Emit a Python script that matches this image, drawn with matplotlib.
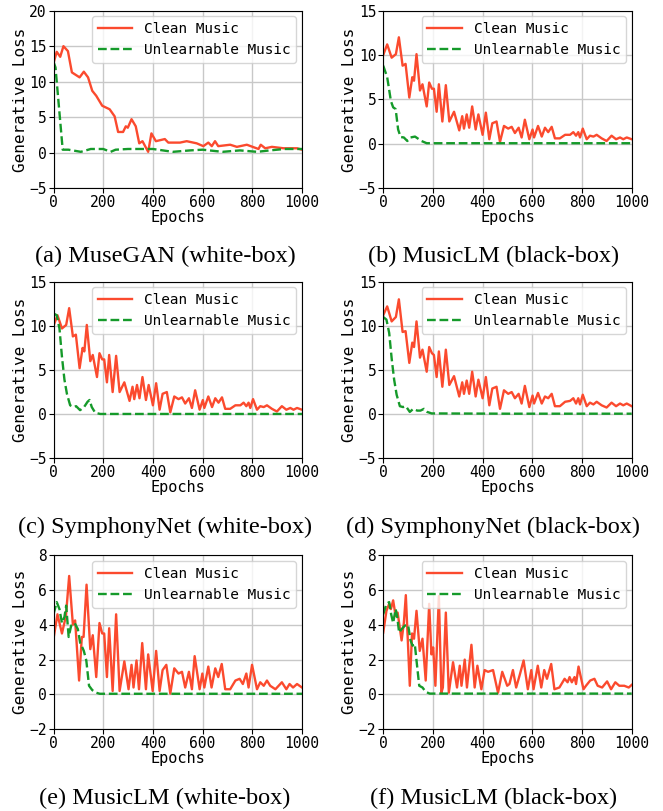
import matplotlib
matplotlib.use("Agg")
from matplotlib import pyplot as plt

# ---- data ----
a_clean_x = [0, 13, 27, 40, 58, 74, 105, 122, 139, 156, 172, 196, 226, 246, 260, 280, 291, 299, 314, 331,
             345, 358, 381, 394, 412, 448, 462, 509, 536, 576, 603, 623, 637, 650, 663, 711, 738, 778, 825,
             834, 852, 879, 926, 980, 1000]
a_clean_y = [12.6, 14.2, 13.5, 15.0, 14.3, 11.3, 10.6, 11.4, 10.6, 8.7, 8.0, 6.6, 6.1, 5.1, 2.9, 2.9, 3.7, 3.5,
             4.7, 3.7, 1.3, 1.6, 0.1, 2.7, 1.6, 1.9, 1.4, 1.4, 1.6, 1.3, 0.9, 1.4, 0.9, 1.6, 0.9, 1.1, 0.8,
             1.1, 0.5, 1.1, 0.6, 0.8, 0.6, 0.6, 0.4]
a_unl_x = [0, 8, 37, 60, 110, 150, 200, 230, 250, 300, 400, 480, 550, 600, 680, 750, 820, 870, 930, 1000]
a_unl_y = [12.8, 12.0, 0.4, 0.4, 0.1, 0.5, 0.5, 0.1, 0.4, 0.5, 0.5, 0.1, 0.3, 0.4, 0.1, 0.3, 0.1, 0.3, 0.5, 0.5]

b_clean_x = [0, 16, 34, 51, 63, 78, 90, 105, 117, 124, 134, 148, 158, 175, 185, 196, 204, 215, 224, 238,
             252, 266, 285, 306, 318, 325, 336, 346, 358, 372, 383, 400, 413, 427, 439, 456, 470, 486, 503,
             517, 530, 545, 557, 570, 588, 601, 607, 623, 638, 651, 664, 678, 691, 711, 732, 752, 765, 776,
             785, 792, 803, 819, 832, 846, 859, 879, 899, 919, 937, 953, 966, 980, 1000]
b_clean_y = [10.0, 11.2, 9.7, 10.1, 12.0, 8.8, 9.0, 5.2, 7.5, 7.1, 10.1, 6.0, 6.7, 4.2, 6.9, 6.2, 6.2, 3.6,
             6.7, 2.5, 6.6, 2.5, 3.6, 1.5, 3.1, 1.7, 3.3, 1.8, 4.2, 1.6, 3.3, 1.0, 3.5, 0.5, 2.3, 2.5, 0.2,
             2.0, 1.7, 1.9, 1.2, 1.8, 0.7, 2.7, 0.5, 1.6, 0.7, 2.0, 0.8, 1.8, 1.3, 1.9, 0.6, 0.6, 1.0, 1.0,
             1.3, 0.9, 1.3, 0.7, 1.7, 0.5, 0.9, 0.8, 1.0, 0.6, 0.3, 0.9, 0.5, 0.7, 0.5, 0.7, 0.5]
b_unl_x = [0, 16, 31, 40, 50, 60, 70, 83, 97, 110, 128, 154, 175, 250, 500, 750, 1000]
b_unl_y = [8.8, 7.5, 4.8, 4.1, 3.9, 1.6, 0.75, 0.7, 0.3, 0.7, 0.8, 0.3, 0.05, 0.05, 0.05, 0.05, 0.05]

# SymphonyNet white-box reuses the same clean curve
c_clean_x = b_clean_x
c_clean_y = b_clean_y
c_unl_x = [0, 13, 24, 34, 44, 54, 67, 80, 91, 107, 123, 137, 145, 154, 168, 188, 500, 1000]
c_unl_y = [11.4, 11.2, 9.7, 6.5, 3.9, 2.3, 1.0, 0.8, 0.9, 0.45, 0.8, 1.4, 1.6, 0.8, 0.15, 0.02, 0.02, 0.02]

d_clean_x = b_clean_x
d_clean_y = [11.2, 12.2, 10.5, 11.0, 13.0, 9.3, 9.4, 5.8, 8.1, 7.6, 10.5, 6.4, 7.3, 4.8, 7.6, 6.9, 6.7, 4.2,
             7.1, 3.1, 7.3, 3.3, 4.3, 2.0, 3.6, 2.3, 3.8, 2.3, 4.8, 2.0, 3.9, 1.8, 4.2, 1.0, 2.9, 3.1, 0.6,
             2.7, 2.3, 2.5, 1.8, 2.3, 1.2, 3.2, 0.8, 2.1, 1.2, 2.4, 1.2, 2.0, 1.8, 2.3, 0.9, 0.9, 1.4, 1.5,
             1.8, 1.2, 1.8, 1.1, 2.2, 0.9, 1.3, 1.1, 1.4, 1.0, 0.75, 1.3, 0.9, 1.2, 1.0, 1.2, 0.9]
d_unl_x = [0, 13, 24, 34, 44, 54, 67, 80, 91, 107, 121, 137, 150, 164, 177, 195, 500, 1000]
d_unl_y = [11.0, 10.7, 9.2, 6.3, 3.9, 2.2, 0.9, 0.8, 0.9, 0.25, 0.6, 0.4, 0.4, 0.6, 0.25, 0.08, 0.05, 0.05]

e_clean_x = [0, 16, 34, 50, 63, 78, 87, 103, 114, 121, 133, 148, 158, 172, 185, 196, 204, 215, 224, 238,
             252, 266, 285, 302, 314, 322, 334, 344, 357, 372, 381, 399, 413, 427, 439, 454, 470, 486, 503,
             517, 530, 545, 557, 568, 588, 599, 607, 623, 636, 651, 663, 677, 691, 711, 732, 749, 762, 776,
             785, 799, 819, 832, 846, 859, 872, 893, 919, 937, 950, 964, 980, 1000]
e_clean_y = [3.2, 4.6, 3.5, 4.5, 6.8, 4.0, 4.25, 0.8, 3.3, 3.3, 6.3, 2.6, 3.4, 1.0, 4.1, 3.5, 3.5, 1.0, 3.8,
             0.2, 4.6, 0.2, 1.9, 0.3, 1.7, 0.4, 1.95, 0.3, 2.95, 0.3, 2.3, 0.2, 2.5, 0.2, 1.4, 1.7, 0.05,
             1.5, 1.2, 1.3, 0.4, 1.3, 0.3, 2.2, 0.3, 1.2, 0.4, 1.6, 0.4, 1.5, 1.0, 1.75, 0.3, 0.3, 0.8,
             0.9, 0.6, 1.2, 0.4, 1.7, 0.3, 0.7, 0.5, 0.8, 0.5, 0.3, 0.7, 0.3, 0.6, 0.4, 0.6, 0.4]
e_unl_x = [0, 13, 24, 34, 44, 51, 61, 71, 85, 98, 108, 116, 122, 132, 143, 156, 172, 186, 500, 1000]
e_unl_y = [4.6, 5.3, 4.9, 4.1, 4.45, 5.1, 3.3, 3.95, 4.1, 3.75, 2.9, 2.7, 2.5, 1.95, 0.5, 0.25, 0.1, 0.04,
           0.04, 0.04]

f_clean_x = [0, 13, 24, 31, 40, 50, 58, 64, 74, 83, 91, 107, 116, 124, 134, 147, 158, 171, 185, 194, 201,
             210, 224, 234, 240, 252, 264, 281, 297, 308, 315, 328, 337, 355, 368, 379, 395, 408, 422, 442,
             462, 479, 499, 508, 522, 535, 549, 565, 582, 596, 605, 622, 636, 648, 659, 676, 689, 709, 730,
             742, 750, 759, 770, 776, 786, 806, 816, 833, 850, 863, 881, 901, 917, 934, 950, 970, 988, 1000]
f_clean_y = [3.55, 4.8, 5.2, 4.9, 5.4, 4.5, 4.7, 4.1, 3.1, 4.1, 5.7, 0.5, 3.5, 3.2, 4.8, 2.5, 3.2, 0.8, 5.2,
             2.3, 2.7, 0.5, 5.65, 0.1, 0.4, 4.7, 0.1, 1.85, 0.4, 1.65, 0.5, 2.0, 0.4, 2.85, 0.4, 1.65, 0.3,
             1.4, 1.3, 1.4, 0.1, 1.3, 0.5, 0.6, 1.4, 0.4, 1.1, 1.95, 0.3, 1.4, 0.3, 1.65, 0.4, 1.4, 0.9,
             1.75, 0.3, 0.4, 0.9, 0.7, 1.0, 0.7, 1.0, 0.6, 1.6, 0.3, 0.5, 0.8, 0.9, 0.5, 0.4, 0.75, 0.3,
             0.7, 0.5, 0.5, 0.4, 0.55]
f_unl_x = [0, 13, 24, 32, 40, 50, 56, 64, 74, 87, 100, 110, 118, 127, 137, 145, 158, 171, 187, 500, 1000]
f_unl_y = [4.6, 5.2, 5.3, 4.6, 4.1, 4.9, 4.5, 3.55, 3.75, 3.95, 4.0, 3.1, 2.8, 2.9, 1.55, 0.5, 0.4, 0.15,
           0.05, 0.05, 0.05]

captions = ["(a) MuseGAN (white-box)", "(b) MusicLM (black-box)",
            "(c) SymphonyNet (white-box)", "(d) SymphonyNet (black-box)",
            "(e) MusicLM (white-box)", "(f) MusicLM (black-box)"]
ylims = [(-5, 20), (-5, 15), (-5, 15), (-5, 15), (-2, 8), (-2, 8)]
yticks = [[-5, 0, 5, 10, 15, 20], [-5, 0, 5, 10, 15], [-5, 0, 5, 10, 15], [-5, 0, 5, 10, 15],
          [-2, 0, 2, 4, 6, 8], [-2, 0, 2, 4, 6, 8]]

panels = [(a_clean_x, a_clean_y, a_unl_x, a_unl_y),
          (b_clean_x, b_clean_y, b_unl_x, b_unl_y),
          (c_clean_x, c_clean_y, c_unl_x, c_unl_y),
          (d_clean_x, d_clean_y, d_unl_x, d_unl_y),
          (e_clean_x, e_clean_y, e_unl_x, e_unl_y),
          (f_clean_x, f_clean_y, f_unl_x, f_unl_y)]

plt.rcParams['font.family'] = 'DejaVu Sans Mono'
plt.rcParams['font.size'] = 10.5

fig = plt.figure(figsize=(6.63, 8.11), dpi=100)

lefts = [0.0807, 0.578]
rows = [(0.7682, 0.2186), (0.4349, 0.2178), (0.1007, 0.2149)]
cap_y = [0.6843, 0.3502, 0.0160]
cap_x = [0.249, 0.744]

for i, (cx, cy, ux, uy) in enumerate(panels):
    r, c = divmod(i, 2)
    ax = fig.add_axes([lefts[c], rows[r][0], 0.3748, rows[r][1]])
    ax.plot(cx, cy, color='#fb4a2e', linewidth=1.7, label='Clean Music')
    ax.plot(ux, uy, color='#159a2a', linewidth=1.7, linestyle='--', label='Unlearnable Music')
    ax.set_xlim(0, 1000)
    ax.set_ylim(*ylims[i])
    ax.set_xticks([0, 200, 400, 600, 800, 1000])
    ax.set_yticks(yticks[i])
    ax.grid(True, color='#c8c8c8', linewidth=1.0)
    ax.set_axisbelow(True)
    ax.set_xlabel('Epochs', fontsize=11, labelpad=0)
    ax.set_ylabel('Generative Loss', fontsize=11.5, labelpad=1)
    ax.tick_params(labelsize=10.5, length=3.5, pad=1.5)
    ax.legend(loc='upper right', fontsize=10.4, handlelength=2.4, borderaxespad=0.4)
    fig.text(cap_x[c], cap_y[r], captions[i], ha='center', va='center',
             family='Liberation Serif', fontsize=17.5)

fig.savefig('out.png', dpi=100)
